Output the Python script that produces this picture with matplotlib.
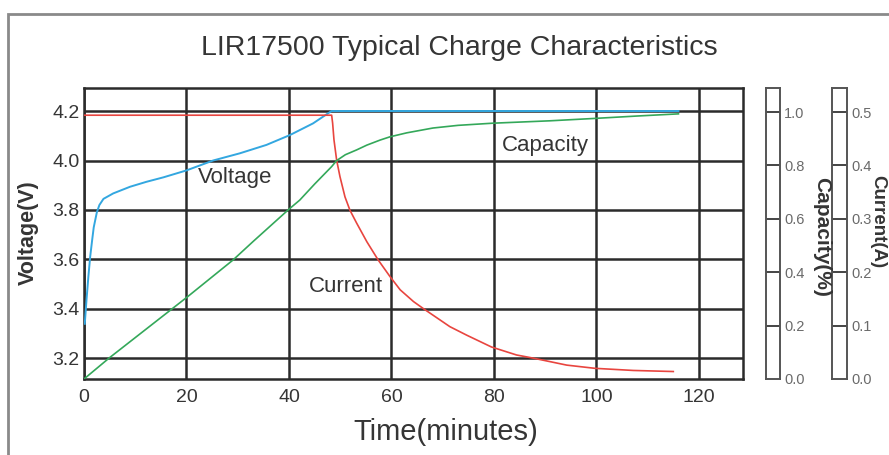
import matplotlib
matplotlib.use("Agg")
import matplotlib.pyplot as plt
from matplotlib.patches import Rectangle

plt.rcParams['font.family'] = ['Liberation Sans', 'DejaVu Sans']

# ---- data ----
time_ticks = [0, 20, 40, 60, 80, 100, 120]
volt_ticks = [3.2, 3.4, 3.6, 3.8, 4.0, 4.2]
cap_ticks = [0.0, 0.2, 0.4, 0.6, 0.8, 1.0]
cur_ticks = [0.0, 0.1, 0.2, 0.3, 0.4, 0.5]

volt_t = [0.15, 0.5, 0.85, 1.2, 1.6, 1.9, 2.5, 3.0, 3.8, 5.7, 9.0, 12.2, 15.5, 20.0,
          25.2, 30.4, 35.6, 40.2, 44.7, 48.3, 116]
volt_v = [3.34, 3.44, 3.53, 3.61, 3.68, 3.73, 3.79, 3.82, 3.845, 3.867, 3.894, 3.914,
          3.932, 3.96, 4.0, 4.029, 4.063, 4.103, 4.15, 4.2, 4.2]

cur_t = [0, 48.33, 48.52, 48.78, 49.3, 49.95, 50.93, 51.9, 53.2, 55.2, 57.4, 59.7, 61.7,
         64.3, 66.2, 71.4, 74.7, 79.5, 84.4, 87.7, 94.2, 99.7, 107.2, 115]
cur_a = [0.494, 0.494, 0.479, 0.448, 0.41, 0.379, 0.341, 0.316, 0.292, 0.257, 0.223,
         0.192, 0.167, 0.145, 0.132, 0.098, 0.082, 0.060, 0.045, 0.039, 0.026, 0.020,
         0.016, 0.014]

cap_t = [0, 5, 10, 20.2, 29.1, 33, 40, 42.1, 45, 48.3, 49.3, 51, 53.2, 55.2, 57.8, 59.7,
         63, 68.1, 73, 79.7, 90.9, 99.7, 108, 116]
cap_c = [0.0, 0.08, 0.155, 0.308, 0.446, 0.515, 0.636, 0.67, 0.73, 0.795, 0.818, 0.84,
         0.858, 0.876, 0.895, 0.907, 0.922, 0.94, 0.95, 0.958, 0.967, 0.976, 0.985, 0.993]

W, H = 889, 455
fig = plt.figure(figsize=(W / 100, H / 100), dpi=100)

def box(x0, y0, x1, y1):
    return [x0 / W, 1 - y1 / H, (x1 - x0) / W, (y1 - y0) / H]

def fy(y):
    return 1 - y / H

txt = '#353535'

# outer gray frame
fig.patches.append(Rectangle((8 / W, -0.05), 1.2, 1 - 14 / H + 0.05, transform=fig.transFigure,
                             fill=False, edgecolor='#8a8a8a', linewidth=2))

dark = '#2b2b2b'
ax = fig.add_axes(box(84, 88, 743, 379))
ax.set_xlim(0, 128.6)
ax.set_ylim(3.117, 4.293)
ax.set_xticks(time_ticks)
ax.set_yticks(volt_ticks)
ax.set_yticklabels([f"{v:.1f}" for v in volt_ticks])
ax.tick_params(axis='y', length=0, labelsize=14, colors=txt, pad=3)
ax.tick_params(axis='x', length=0, labelsize=14, colors=txt, pad=7)
ax.grid(True, color=dark, linewidth=1.8)
ax.set_axisbelow(True)
for s in ax.spines.values():
    s.set_color(dark)
    s.set_linewidth(1.8)

ax.plot(volt_t, volt_v, color='#33a7e0', lw=1.4, zorder=3)

axc = ax.twinx()
axc.set_ylim(0, (379 - 88) / 534)
axc.set_yticks([])
for s in axc.spines.values():
    s.set_visible(False)
axc.plot(cur_t, cur_a, color='#e8453f', lw=1.2, zorder=3)

axp = ax.twinx()
axp.set_ylim(0, (379 - 88) / 267)
axp.set_yticks([])
for s in axp.spines.values():
    s.set_visible(False)
axp.plot(cap_t, cap_c, color='#34a85a', lw=1.2, zorder=3)

fig.text(235 / W, fy(177), 'Voltage', ha='center', va='center', fontsize=16, color=txt)
fig.text(545 / W, fy(145), 'Capacity', ha='center', va='center', fontsize=16, color=txt)
fig.text(346 / W, fy(287), 'Current', ha='center', va='center', fontsize=16, color=txt)

fig.text(446 / W, fy(432), 'Time(minutes)', ha='center', va='center', fontsize=21, color=txt)
fig.text(28 / W, fy(233), 'Voltage(V)', rotation=90, ha='center', va='center',
         fontsize=15.5, fontweight='bold', color=txt)

fig.text(459 / W, fy(48), 'LIR17500 Typical Charge Characteristics', ha='center',
         va='center', fontsize=20.5, color=txt)

def side_bar(x0, x1, ticks, top, label, lx, ly, lsize):
    a = fig.add_axes(box(x0, 88, x1, 379))
    a.set_xlim(0, 1)
    a.set_ylim(0, top)
    a.set_xticks([])
    a.yaxis.tick_right()
    a.set_yticks(ticks)
    a.set_yticklabels([f"{t:.1f}" for t in ticks])
    a.tick_params(length=0, labelsize=10.5, colors='#6a6a6a', pad=3)
    for t in ticks[1:]:
        a.axhline(t, color='#444444', lw=1.4)
    for s in a.spines.values():
        s.set_color('#555555')
        s.set_linewidth(1.4)
    fig.text(lx / W, fy(ly), label, rotation=270, ha='center', va='center',
             fontsize=lsize, fontweight='bold', color=txt)
    return a

side_bar(766, 780, cap_ticks, (379 - 88) / 267, 'Capacity(%)', 822, 237, 15)
side_bar(832, 847, cur_ticks, 0.5 * (379 - 88) / 267, 'Current(A)', 878, 222, 13.5)

fig.savefig('out.png', dpi=100)
